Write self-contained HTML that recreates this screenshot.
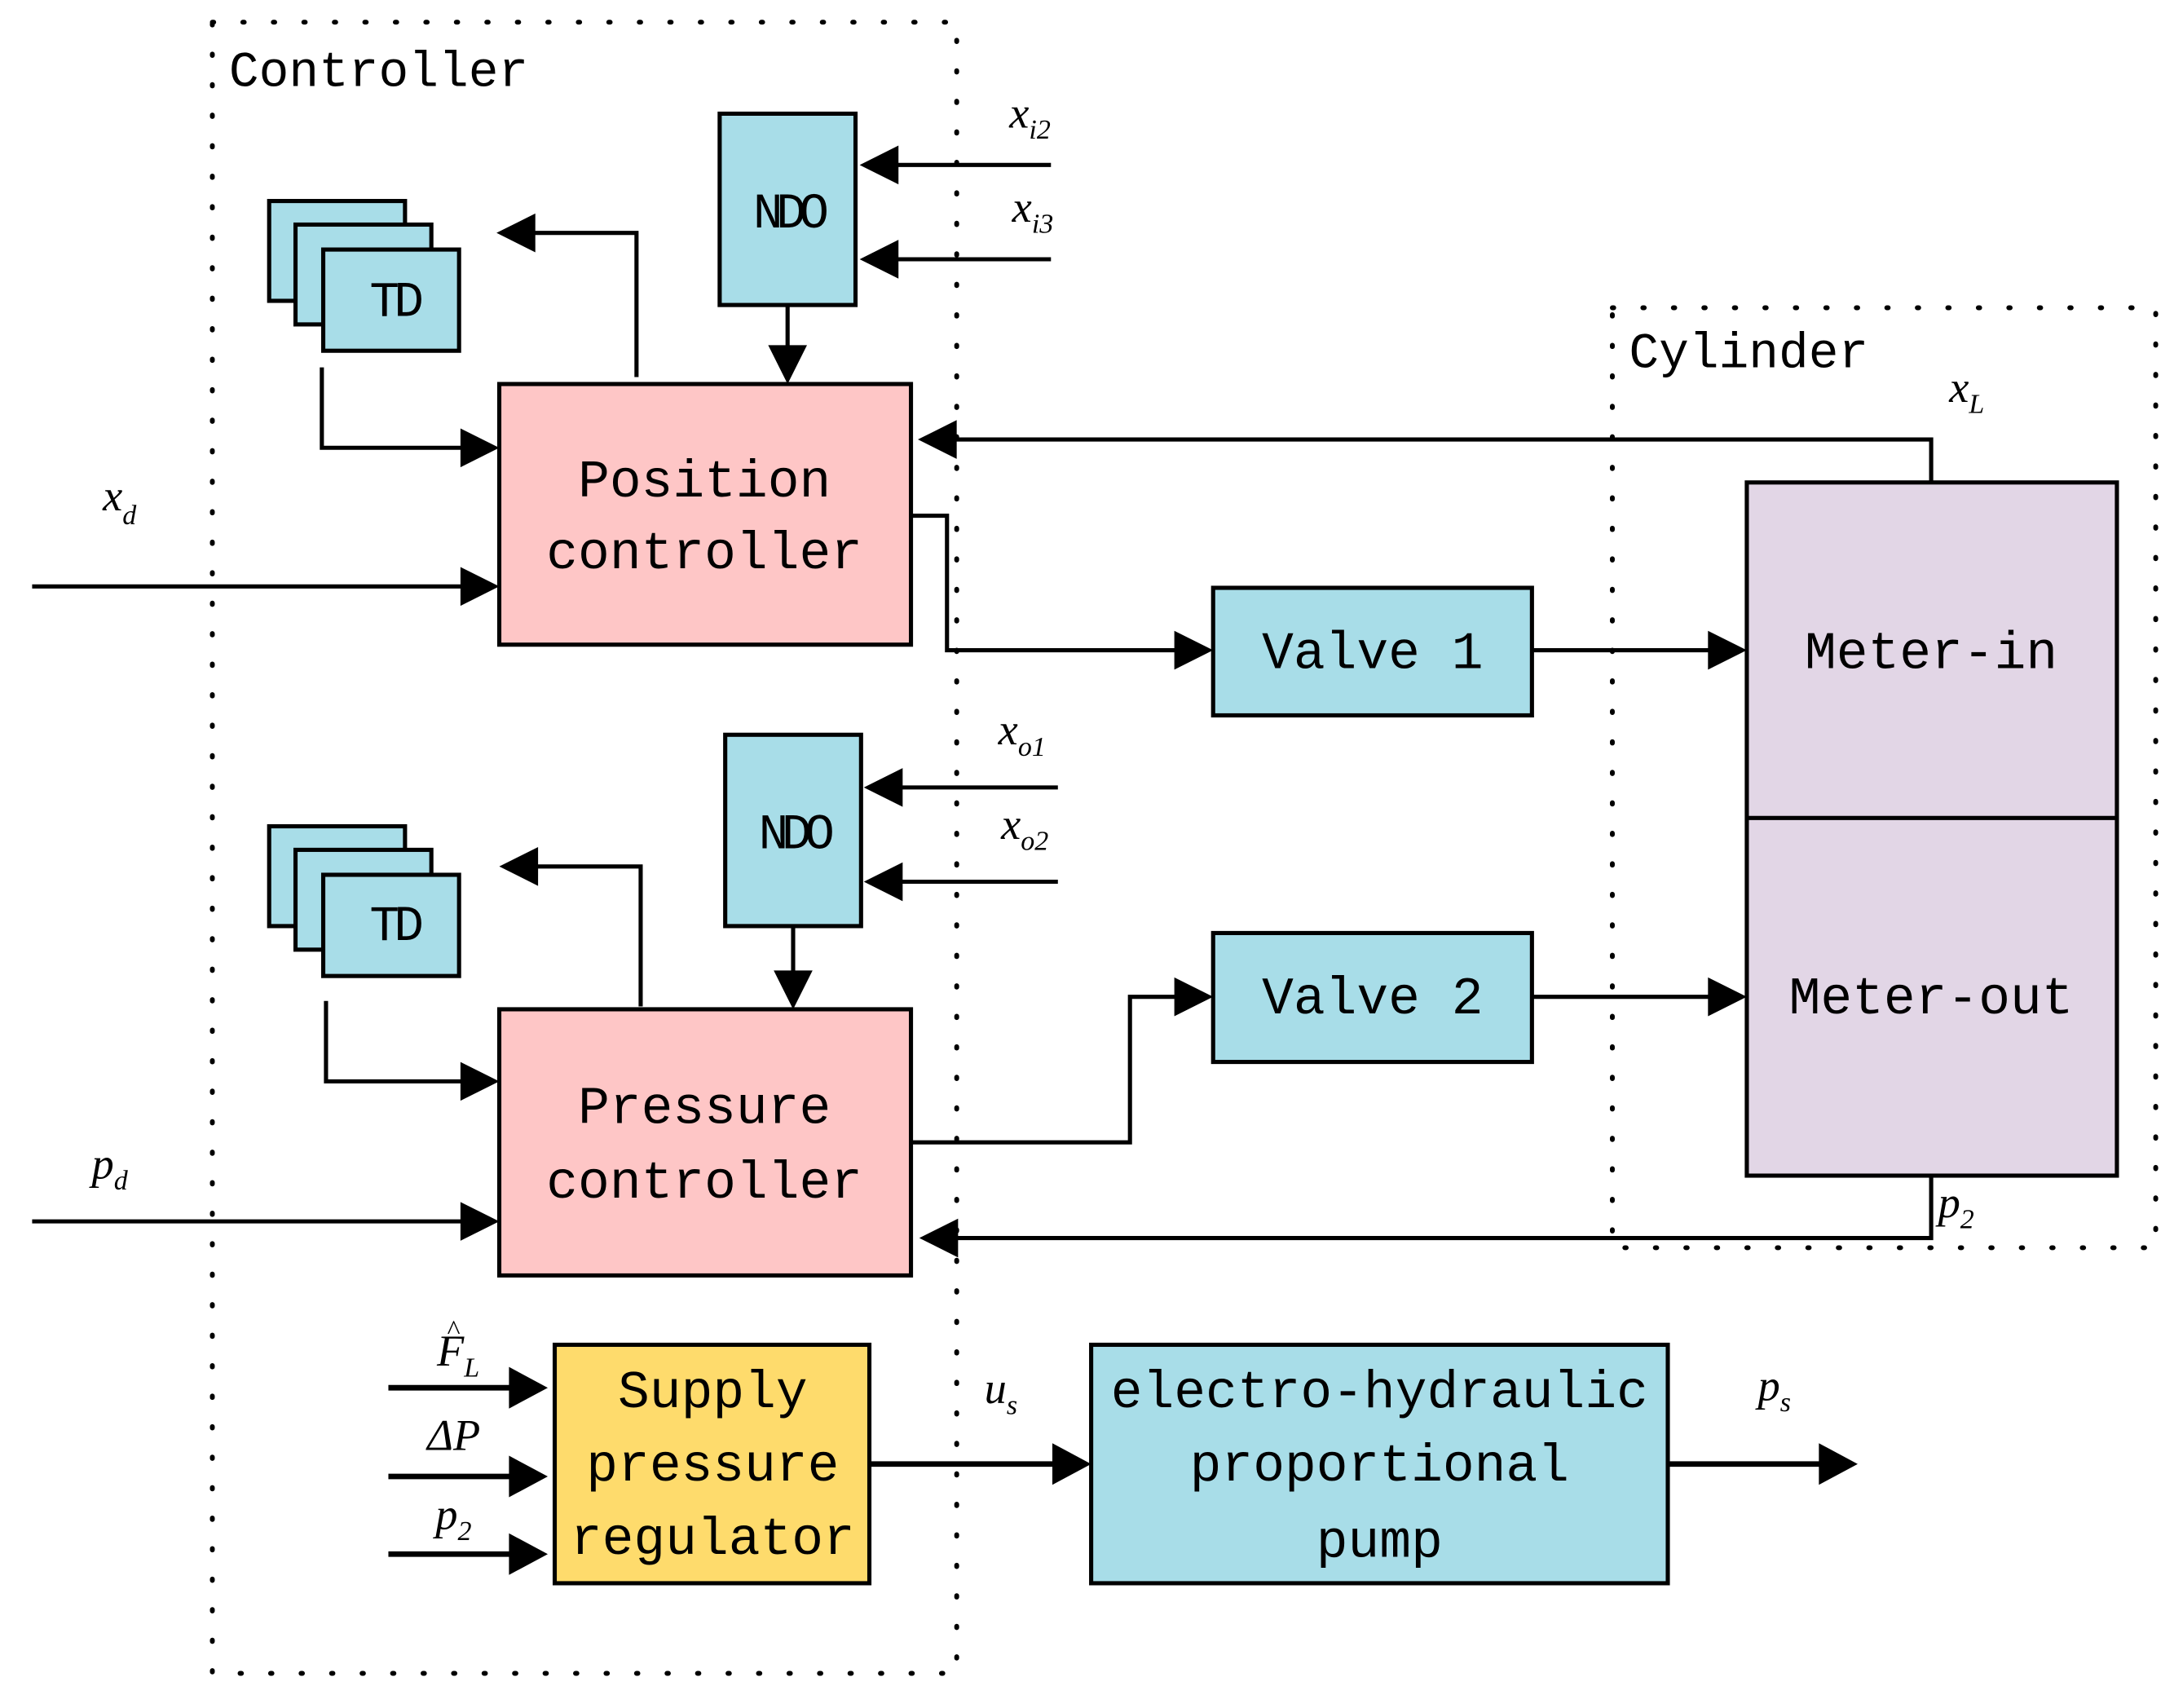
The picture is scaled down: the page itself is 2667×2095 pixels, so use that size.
<!DOCTYPE html>
<html><head><meta charset="utf-8"><style>
html,body{margin:0;padding:0;background:#fff;}
svg{display:block;}
.b{font-family:"Liberation Mono",monospace;font-size:38px;fill:#000;}
.m{font-family:"Liberation Serif",serif;font-style:italic;font-size:32px;fill:#000;}
.s{font-family:"Liberation Serif",serif;font-style:italic;font-size:20px;fill:#000;}
</style></head><body>
<svg width="2667" height="2095" viewBox="0 0 1568 1232" xmlns="http://www.w3.org/2000/svg">
<g fill="none" stroke="#000" stroke-width="3.5" stroke-dasharray="1 21" stroke-linecap="round">
<rect x="153" y="16" width="537" height="1191"/>
<rect x="1163" y="222" width="392" height="678"/>
</g>
<text x="165" y="62" class="b" style="font-size:36px">Controller</text>
<text x="1175" y="265" class="b" style="font-size:36px">Cylinder</text>

<g stroke="#000" stroke-width="3">
<rect x="194" y="145" width="98" height="72" fill="#a8dde8"/>
<rect x="213" y="162" width="98" height="72" fill="#a8dde8"/>
<rect x="233" y="180" width="98" height="73" fill="#a8dde8"/>
<rect x="194" y="596" width="98" height="72" fill="#a8dde8"/>
<rect x="213" y="613" width="98" height="72" fill="#a8dde8"/>
<rect x="233" y="631" width="98" height="73" fill="#a8dde8"/>
<rect x="519" y="82" width="98" height="138" fill="#a8dde8"/>
<rect x="523" y="530" width="98" height="138" fill="#a8dde8"/>
<rect x="360" y="277" width="297" height="188" fill="#fec6c6"/>
<rect x="360" y="728" width="297" height="192" fill="#fec6c6"/>
<rect x="875" y="424" width="230" height="92" fill="#a8dde8"/>
<rect x="875" y="673" width="230" height="93" fill="#a8dde8"/>
<rect x="1260" y="348" width="267" height="500" fill="#e2d6e6"/>
<line x1="1260" y1="590" x2="1527" y2="590"/>
<rect x="400" y="970" width="227" height="172" fill="#fedb6c"/>
<rect x="787" y="970" width="416" height="172" fill="#a8dde8"/>
</g>

<g fill="none" stroke="#000" stroke-width="3">
<polyline points="232,265 232,323 340,323"/>
<polyline points="23,423 340,423"/>
<polyline points="459,272 459,168 385,168"/>
<polyline points="568,220 568,258"/>
<polyline points="758,119 645,119"/>
<polyline points="758,187 645,187"/>
<polyline points="1393,348 1393,317 688,317"/>
<polyline points="657,372 683,372 683,469 853,469"/>
<polyline points="1105,469 1238,469"/>
<polyline points="235,722 235,780 340,780"/>
<polyline points="23,881 340,881"/>
<polyline points="462,726 462,625 387,625"/>
<polyline points="572,668 572,706"/>
<polyline points="763,568 648,568"/>
<polyline points="763,636 648,636"/>
<polyline points="657,824 815,824 815,719 853,719"/>
<polyline points="1105,719 1238,719"/>
<polyline points="1393,848 1393,893 690,893"/>
<polyline points="280,1001 372,1001" stroke-width="4"/>
<polyline points="280,1065 372,1065" stroke-width="4"/>
<polyline points="280,1121 372,1121" stroke-width="4"/>
<polyline points="627,1056 765,1056" stroke-width="4"/>
<polyline points="1203,1056 1318,1056" stroke-width="4"/>
</g>
<g fill="#000">
<polygon points="360,323 332,309 332,337"/>
<polygon points="360,423 332,409 332,437"/>
<polygon points="358,168 386,154 386,182"/>
<polygon points="568,277 554,249 582,249"/>
<polygon points="620,119 648,105 648,133"/>
<polygon points="620,187 648,173 648,201"/>
<polygon points="662,317 690,303 690,331"/>
<polygon points="875,469 847,455 847,483"/>
<polygon points="1260,469 1232,455 1232,483"/>
<polygon points="360,780 332,766 332,794"/>
<polygon points="360,881 332,867 332,895"/>
<polygon points="360,625 388,611 388,639"/>
<polygon points="572,728 558,700 586,700"/>
<polygon points="623,568 651,554 651,582"/>
<polygon points="623,636 651,622 651,650"/>
<polygon points="875,719 847,705 847,733"/>
<polygon points="1260,719 1232,705 1232,733"/>
<polygon points="663,893 691,879 691,907"/>
<polygon points="395,1001 367,986 367,1016"/>
<polygon points="395,1065 367,1050 367,1080"/>
<polygon points="395,1121 367,1106 367,1136"/>
<polygon points="787,1056 759,1041 759,1071"/>
<polygon points="1340,1056 1312,1041 1312,1071"/>
</g>

<g class="b" text-anchor="middle">
<text x="284" y="228" style="font-size:36px;letter-spacing:-4px">TD</text>
<text x="284" y="678" style="font-size:36px;letter-spacing:-4px">TD</text>
<text x="568" y="164" style="font-size:36px;letter-spacing:-5px">NDO</text>
<text x="572" y="612" style="font-size:36px;letter-spacing:-5px">NDO</text>
<text x="508" y="358">Position</text>
<text x="508" y="410">controller</text>
<text x="508" y="810">Pressure</text>
<text x="508" y="864">controller</text>
<text x="990" y="482">Valve 1</text>
<text x="990" y="731">Valve 2</text>
<text x="1393" y="482">Meter-in</text>
<text x="1393" y="731">Meter-out</text>
<text x="514" y="1015">Supply</text>
<text x="514" y="1068">pressure</text>
<text x="514" y="1121">regulator</text>
<text x="995" y="1015">electro-hydraulic</text>
<text x="995" y="1068">proportional</text>
<text x="995" y="1123">pump</text>
</g>

<g>
<text x="728" y="92" class="m">x<tspan class="s" dy="8">i2</tspan></text>
<text x="730" y="160" class="m">x<tspan class="s" dy="8">i3</tspan></text>
<text x="720" y="537" class="m">x<tspan class="s" dy="8">o1</tspan></text>
<text x="722" y="605" class="m">x<tspan class="s" dy="8">o2</tspan></text>
<text x="1406" y="290" class="m">x<tspan class="s" dy="8">L</tspan></text>
<text x="1398" y="878" class="m">p<tspan class="s" dy="8">2</tspan></text>
<text x="74" y="368" class="m">x<tspan class="s" dy="10">d</tspan></text>
<text x="66" y="850" class="m">p<tspan class="s" dy="8">d</tspan></text>
<text x="315" y="985" class="m">F<tspan class="s" dy="8">L</tspan></text>
<text x="322" y="966" class="s">^</text>
<text x="308" y="1046" class="m">ΔP</text>
<text x="314" y="1103" class="m">p<tspan class="s" dy="8">2</tspan></text>
<text x="710" y="1012" class="m">u<tspan class="s" dy="8">s</tspan></text>
<text x="1268" y="1010" class="m">p<tspan class="s" dy="8">s</tspan></text>
</g>
</svg>
</body></html>
